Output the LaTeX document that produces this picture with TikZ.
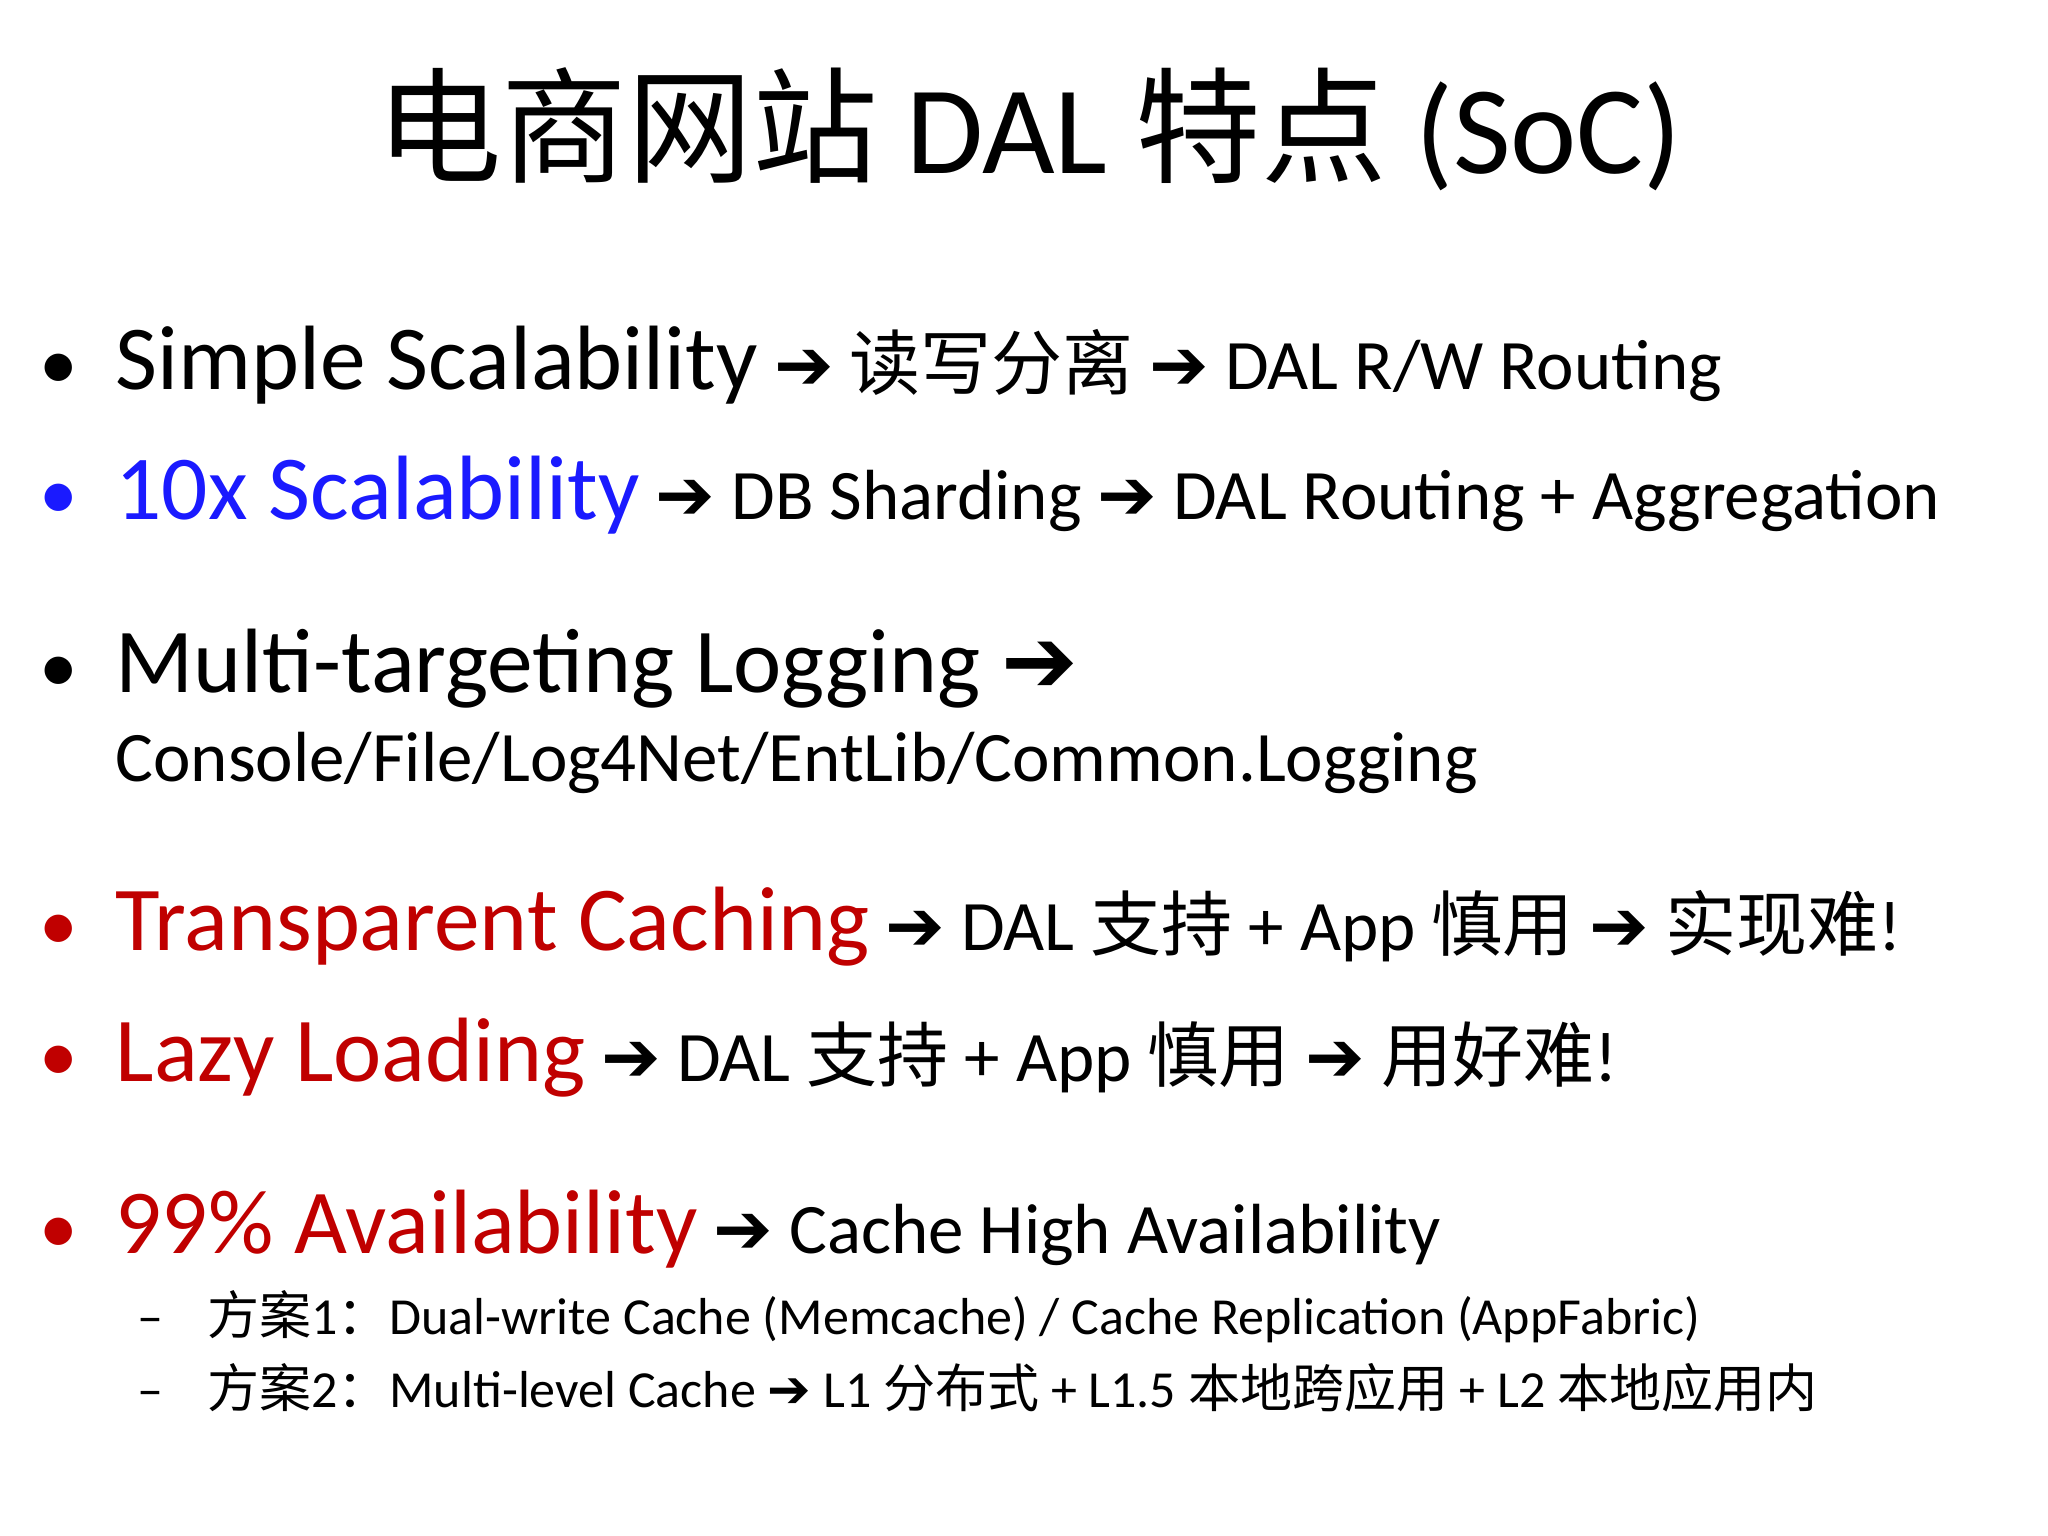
\documentclass[tikz,border=0pt]{standalone}
\usepackage{fontspec}
\setmainfont{Carlito}
\newfontfamily\cjk{Noto Sans CJK SC}
\newfontfamily\djv{DejaVu Sans}
\newcommand{\zh}[1]{{\cjk #1}}
\newcommand{\arr}{{\djv\bfseries ➔}}
\newcommand{\bg}{\fontsize{26}{30}\selectfont}
\definecolor{tblue}{HTML}{1A1AFF}
\definecolor{tred}{HTML}{C00000}
\begin{document}
\begin{tikzpicture}[x=0.01306cm,y=-0.01306cm,
  line/.style={anchor=base west,inner sep=0pt,text=black},
  big/.style={font=\fontsize{26}{30}\selectfont},
  mid/.style={font=\fontsize{20.2}{24}\selectfont},
  small/.style={font=\fontsize{14.8}{18}\selectfont}]
\useasboundingbox (0,0) rectangle (1568,1176);
\node[anchor=base,inner sep=0pt,font=\fontsize{35.7}{42}\selectfont] (title) at (788,133) {\zh{电商网站} DAL \zh{特点} (SoC)};
\foreach \n/\y/\c in {b1/298/black,b2/398/tblue,b3/530/black,b4/728/tred,b5/828/tred,b6/960/tred}
  \node[line,font=\fontsize{22}{26}\selectfont,text=\c] (\n) at (30,\y) {•};
\node[line,mid] (l1) at (88,298) {{\bg Simple Scalability} \arr{} \zh{读写分离} \arr{} DAL R/W Routing};
\node[line,mid] (l2) at (88,398) {{\bg\color{tblue}10x Scalability} \arr{} DB Sharding \arr{} DAL Routing + Aggregation};
\node[line,big] (l3) at (88,530) {Multi-targeting Logging \arr};
\node[line,mid] (l3b) at (88,598) {Console/File/Log4Net/EntLib/Common.Logging};
\node[line,mid] (l4) at (88,728) {{\bg\color{tred}Transparent Caching} \arr{} DAL \zh{支持} + App \zh{慎用} \arr{} \zh{实现难}!};
\node[line,mid] (l5) at (88,828) {{\bg\color{tred}Lazy Loading} \arr{} DAL \zh{支持} + App \zh{慎用} \arr{} \zh{用好难}!};
\node[line,mid] (l6) at (88,960) {{\bg\color{tred}99\% Availability} \arr{} Cache High Availability};
\node[line,small] (d1) at (105,1022) {–};
\node[line,small] (d2) at (105,1078) {–};
\node[line,small] (s1) at (158,1022) {\zh{方案}1\zh{：}Dual-write Cache (Memcache) / Cache Replication (AppFabric)};
\node[line,small] (s2) at (158,1078) {\zh{方案}2\zh{：}Multi-level Cache \arr{} L1 \zh{分布式} + L1.5 \zh{本地跨应用} + L2 \zh{本地应用内}};
\end{tikzpicture}
\end{document}
